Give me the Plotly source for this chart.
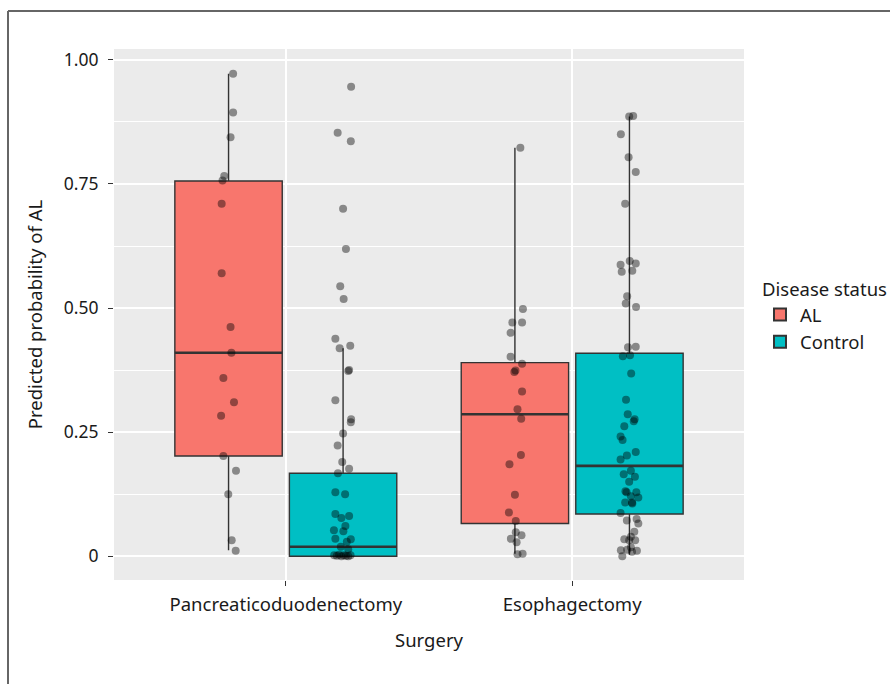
import numpy as np
import plotly.graph_objects as go

# ---------------- data ----------------
categories = ["Pancreaticoduodenectomy", "Esophagectomy"]
groups = ["AL", "Control"]
group_colors = {"AL": "#F8766D", "Control": "#00BFC4"}

# box statistics: [Pancreaticoduodenectomy, Esophagectomy]
al_q1 = [0.202, 0.066]
al_median = [0.410, 0.286]
al_q3 = [0.756, 0.390]
al_low = [0.012, 0.005]
al_high = [0.972, 0.823]

ctl_q1 = [0.000, 0.085]
ctl_median = [0.019, 0.182]
ctl_q3 = [0.167, 0.409]
ctl_low = [0.000, 0.003]
ctl_high = [0.419, 0.886]

# individual predicted probabilities and their horizontal jitter
pd_al_vals = [0.972, 0.894, 0.844, 0.766, 0.757, 0.710, 0.570, 0.462, 0.410, 0.359,
              0.310, 0.283, 0.202, 0.172, 0.125, 0.032, 0.011]
pd_al_jit = [0.016, 0.016, 0.007, -0.015, -0.021, -0.024, -0.024, 0.007, 0.010, -0.018,
             0.019, -0.026, -0.018, 0.026, -0.001, 0.011, 0.025]

pd_ctl_vals = [0.946, 0.853, 0.836, 0.700, 0.619, 0.544, 0.518, 0.438, 0.419, 0.424,
               0.373, 0.375, 0.314, 0.270, 0.276, 0.247, 0.223, 0.190, 0.176, 0.167,
               0.129, 0.125, 0.085, 0.077, 0.081, 0.061, 0.052, 0.050, 0.035, 0.034,
               0.029, 0.019, 0.014, 0.002, 0.001, 0.003, 0.000, 0.002, 0.001, 0.000, 0.002]
pd_ctl_jit = [0.028, -0.019, 0.027, 0.000, 0.010, -0.010, 0.002, -0.027, -0.012, 0.025,
              0.018, 0.021, -0.027, 0.027, 0.028, 0.000, -0.019, -0.003, 0.021, -0.018,
              -0.027, 0.007, -0.027, -0.006, 0.021, 0.008, -0.032, 0.001, -0.027, 0.027,
              0.013, -0.008, 0.018, -0.031, -0.022, -0.014, -0.006, 0.002, 0.010, 0.018, 0.026]

es_al_vals = [0.823, 0.498, 0.471, 0.471, 0.450, 0.402, 0.388, 0.371, 0.374, 0.332,
              0.296, 0.277, 0.204, 0.185, 0.124, 0.088, 0.071, 0.048, 0.042, 0.035,
              0.028, 0.004, 0.005]
es_al_jit = [0.019, 0.028, -0.009, 0.025, -0.015, -0.015, 0.025, -0.002, 0.002, 0.025,
             0.009, 0.022, 0.021, -0.019, 0.000, -0.021, 0.003, 0.003, 0.023, -0.014,
             0.006, 0.009, 0.027]

es_ctl_vals = [0.886, 0.887, 0.850, 0.804, 0.774, 0.710, 0.595, 0.590, 0.587, 0.573,
               0.575, 0.524, 0.509, 0.502, 0.421, 0.422, 0.403, 0.405, 0.368, 0.315,
               0.286, 0.272, 0.276, 0.262, 0.241, 0.234, 0.210, 0.203, 0.195, 0.172,
               0.165, 0.160, 0.150, 0.131, 0.129, 0.129, 0.121, 0.118, 0.108, 0.108,
               0.106, 0.087, 0.072, 0.075, 0.066, 0.049, 0.039, 0.034, 0.032, 0.032,
               0.018, 0.012, 0.013, 0.011, 0.009, 0.000]
es_ctl_jit = [-0.001, 0.013, -0.030, -0.003, 0.022, -0.015, 0.001, 0.022, -0.031, -0.027,
              0.010, -0.008, -0.013, 0.023, -0.005, 0.022, -0.023, 0.002, 0.006, -0.012,
              -0.006, 0.015, 0.018, -0.018, -0.031, -0.024, 0.022, -0.009, -0.031, 0.005,
              -0.020, 0.019, -0.001, -0.014, -0.010, 0.024, 0.005, 0.031, -0.015, 0.009,
              0.010, -0.031, -0.009, 0.025, 0.031, 0.017, 0.005, -0.018, -0.001, 0.020,
              0.005, -0.030, -0.008, 0.026, 0.009, -0.025]

y_tick_vals = [0, 0.25, 0.5, 0.75, 1.0]
y_tick_text = ["0", "0.25", "0.50", "0.75", "1.00"]
y_minor_vals = [0.125, 0.375, 0.625, 0.875]

# ---------------- layout constants ----------------
cat_pos = [1, 2]
dodge = 0.2
box_w = 0.375
ink = "#333333"
txt = "#1a1a1a"
FONT = "Noto Sans"
FS = 18.5

fig = go.Figure()

stats = {
    "AL": (al_q1, al_median, al_q3, al_low, al_high, -dodge),
    "Control": (ctl_q1, ctl_median, ctl_q3, ctl_low, ctl_high, dodge),
}

for g in groups:
    q1, med, q3, lo, hi, off = stats[g]
    xs = [c + off for c in cat_pos]
    fig.add_trace(go.Box(
        x=xs, q1=q1, median=med, q3=q3, lowerfence=lo, upperfence=hi,
        width=box_w, name=g, legendgroup=g, showlegend=True,
        fillcolor=group_colors[g], line=dict(color=ink, width=1.4),
        whiskerwidth=0, boxpoints=False, hoverinfo="skip",
    ))
    # thicker median line like ggplot
    for x, m in zip(xs, med):
        fig.add_trace(go.Scatter(
            x=[x - box_w / 2, x + box_w / 2], y=[m, m], mode="lines",
            line=dict(color=ink, width=2.6), showlegend=False, hoverinfo="skip"))

point_sets = [
    (pd_al_vals, pd_al_jit, cat_pos[0] - dodge),
    (pd_ctl_vals, pd_ctl_jit, cat_pos[0] + dodge),
    (es_al_vals, es_al_jit, cat_pos[1] - dodge),
    (es_ctl_vals, es_ctl_jit, cat_pos[1] + dodge),
]
for vals, jit, center in point_sets:
    fig.add_trace(go.Scatter(
        x=center + np.array(jit), y=vals, mode="markers",
        marker=dict(color="rgba(0,0,0,0.42)", size=8, line=dict(width=0)),
        showlegend=False, hoverinfo="skip"))

# plot area: left 114, right 744, top 49, bottom 580 (pixels)
L, R, T, B = 114, 744, 49, 580
W, H = 890, 684
pw, ph = R - L, B - T


def px_x(p):
    return (p - L) / pw


def px_y(p):
    return (B - p) / ph


fig.update_layout(
    width=W, height=H,
    margin=dict(l=L, r=W - R, t=T, b=H - B, pad=0, autoexpand=False),
    paper_bgcolor="white", plot_bgcolor="#EBEBEB",
    font=dict(family=FONT, size=FS, color=txt),
    boxmode="overlay",
    xaxis=dict(
        range=[0.4, 2.6], tickvals=cat_pos, ticktext=categories,
        showgrid=True, gridcolor="white", gridwidth=1.5, zeroline=False,
        ticks="outside", ticklen=5, tickcolor=ink, tickwidth=1,
        tickfont=dict(size=FS, color=txt), ticklabelstandoff=3,
        title=dict(text="Surgery", font=dict(size=FS, color=txt), standoff=18),
        fixedrange=True,
    ),
    yaxis=dict(
        range=[-0.048, 1.022], tickvals=y_tick_vals, ticktext=y_tick_text,
        showgrid=True, gridcolor="white", gridwidth=1.5, zeroline=False,
        minor=dict(tickvals=y_minor_vals, showgrid=True, gridcolor="white", gridwidth=0.7, ticks=""),
        ticks="outside", ticklen=5, tickcolor=ink, tickwidth=1,
        tickfont=dict(size=17.5, color=txt), ticklabelstandoff=6,
        title=dict(text="Predicted probability of AL", font=dict(size=FS, color=txt), standoff=16),
        fixedrange=True,
    ),
    legend=dict(
        title=dict(text="Disease status", font=dict(size=FS, color=txt)),
        font=dict(size=FS, color=txt),
        x=px_x(760), y=px_y(272), xanchor="left", yanchor="top",
        bgcolor="rgba(0,0,0,0)", tracegroupgap=0, itemsizing="constant",
    ),
    shapes=[
        dict(type="line", xref="paper", yref="paper", x0=px_x(8), x1=px_x(8),
             y0=px_y(11), y1=px_y(690), line=dict(color="#666666", width=2)),
        dict(type="line", xref="paper", yref="paper", x0=px_x(8), x1=px_x(895),
             y0=px_y(11), y1=px_y(11), line=dict(color="#666666", width=2)),
    ],
)

fig.write_html("out.html", config={"displayModeBar": False},
               post_script="document.body.style.margin='0';")
